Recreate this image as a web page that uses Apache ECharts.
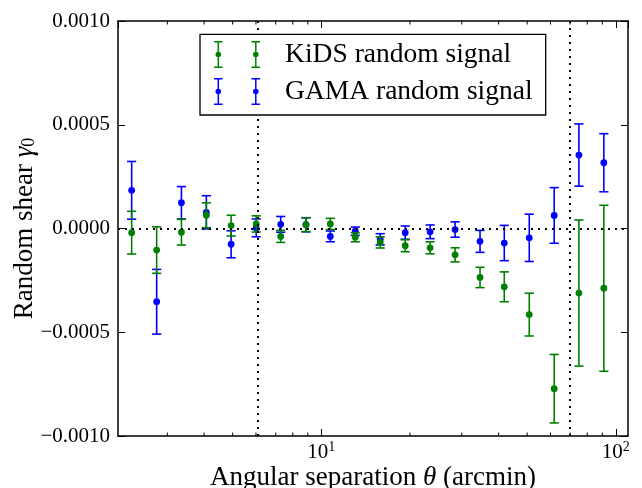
<!DOCTYPE html>
<html>
<head>
<meta charset="utf-8">
<script src="https://cdn.jsdelivr.net/npm/echarts@6/dist/echarts.min.js"></script>
<style>html,body{margin:0;padding:0;background:#fff;}#c{width:642px;height:488px;}</style>
</head>
<body>
<div id="c"></div>
<script>
// Angular separation theta (arcmin) of each bin
const xTheta = [2.27, 2.76, 3.35, 4.07, 4.94, 6.01, 7.28, 8.87, 10.73, 13.04, 15.85, 19.27, 23.41, 28.46, 34.59, 41.81, 50.83, 61.77, 74.93, 91.06];
// KiDS random signal
const kidsY = [-0.000020, -0.000104, -0.000018, 0.000064, 0.000014, 0.000022, -0.000038, 0.000018, 0.000022, -0.000042, -0.000067, -0.000083, -0.000093, -0.000127, -0.000236, -0.000281, -0.000415, -0.000772, -0.000311, -0.000288];
const kidsErr = [0.000103, 0.000112, 0.000062, 0.000060, 0.000050, 0.000039, 0.000029, 0.000033, 0.000027, 0.000022, 0.000027, 0.000029, 0.000029, 0.000034, 0.000049, 0.000072, 0.000103, 0.000165, 0.000352, 0.000400];
// GAMA random signal
const gamaY = [0.000184, -0.000353, 0.000124, 0.000078, -0.000076, 0.000003, 0.000020, 0.000018, -0.000038, -0.000013, -0.000052, -0.000020, -0.000016, -0.000005, -0.000062, -0.000070, -0.000045, 0.000063, 0.000354, 0.000317];
const gamaErr = [0.000139, 0.000156, 0.000078, 0.000080, 0.000065, 0.000043, 0.000038, 0.000034, 0.000026, 0.000020, 0.000027, 0.000032, 0.000033, 0.000037, 0.000053, 0.000085, 0.000114, 0.000134, 0.000150, 0.000140];
// reference lines
const vLines = [6.1, 70];
const hLine = 0;
// minor tick positions on log axis
const xMinorTicks = [3, 4, 5, 6, 7, 8, 9, 20, 30, 40, 50, 60, 70, 80, 90];
const seriesNames = ['KiDS random signal', 'GAMA random signal'];

const FONT = 'Liberation Serif';
const GREEN = '#008000', BLUE = '#0000ff';

function errRender(color) {
  return function (params, api) {
    const x = api.value(0), y = api.value(1), e = api.value(2);
    const c = api.coord([x, y]);
    const t = api.coord([x, y + e]);
    const b = api.coord([x, y - e]);
    const cw = 4.6;
    const st = { stroke: color, lineWidth: 1.6 };
    return {
      type: 'group',
      children: [
        { type: 'line', shape: { x1: c[0], y1: t[1], x2: c[0], y2: b[1] }, style: st },
        { type: 'line', shape: { x1: c[0] - cw, y1: t[1], x2: c[0] + cw, y2: t[1] }, style: st },
        { type: 'line', shape: { x1: c[0] - cw, y1: b[1], x2: c[0] + cw, y2: b[1] }, style: st },
        { type: 'circle', shape: { cx: c[0], cy: c[1], r: 3.4 }, style: { fill: color } }
      ]
    };
  };
}

function bar(cx) {
  const hw = 4.3, sw = 0.75, r = 2.8;
  return 'M' + (cx - hw) + ' 0H' + (cx + hw) + 'V1.5H' + (cx - hw) + 'Z' +
    'M' + (cx - sw) + ' 0H' + (cx + sw) + 'V27H' + (cx - sw) + 'Z' +
    'M' + (cx - hw) + ' 25.5H' + (cx + hw) + 'V27H' + (cx - hw) + 'Z' +
    'M' + (cx + r) + ' 13.5A' + r + ' ' + r + ' 0 1 1 ' + (cx - r) + ' 13.5A' + r + ' ' + r + ' 0 1 1 ' + (cx + r) + ' 13.5Z';
}
const legendIcon = 'path://' + bar(4.3) + bar(41.8);

const chart = echarts.init(document.getElementById('c'), null, { renderer: 'canvas' });

const xCommon = {
  type: 'log', logBase: 10, min: 2.04, max: 110,
  axisLine: { show: true, onZero: false, lineStyle: { color: '#000', width: 1.5 } },
  axisTick: { show: true, inside: true, length: 7, lineStyle: { color: '#000', width: 1 } },
  splitLine: { show: false }
};
const yCommon = {
  type: 'value', min: -0.001, max: 0.001, interval: 0.0005,
  axisLine: { show: true, onZero: false, lineStyle: { color: '#000', width: 1.5 } },
  axisTick: { show: true, inside: true, length: 7, lineStyle: { color: '#000', width: 1 } },
  splitLine: { show: false }
};

const option = {
  animation: false,
  backgroundColor: '#fff',
  grid: { left: 118, right: 14, top: 21, bottom: 52, containLabel: false, outerBoundsMode: 'none' },
  xAxis: [
    Object.assign({}, xCommon, {
      position: 'bottom',
      name: 'Angular separation {it|θ} (arcmin)',
      nameLocation: 'middle', nameGap: 28, nameMoveOverlap: false,
      nameTextStyle: { fontFamily: FONT, fontSize: 27, color: '#000', lineHeight: 27,
        rich: { it: { fontFamily: FONT, fontSize: 27, fontStyle: 'italic', color: '#000', lineHeight: 27 } } },
      axisLabel: {
        margin: 4, color: '#000', fontFamily: FONT, fontSize: 21, lineHeight: 24,
        showMinLabel: false, showMaxLabel: false,
        formatter: function (v) {
          const l = Math.log10(v);
          if (Math.abs(l - Math.round(l)) > 1e-6) return '';
          return '10{sup|' + Math.round(l) + '}';
        },
        rich: { sup: { fontFamily: FONT, fontSize: 14, verticalAlign: 'top', lineHeight: 14, color: '#000' } }
      }
    }),
    Object.assign({}, xCommon, { position: 'top', axisLabel: { show: false } })
  ],
  yAxis: [
    Object.assign({}, yCommon, {
      position: 'left',
      name: 'Random shear {it|γ}{sub|0}',
      nameLocation: 'middle', nameGap: 80, nameRotate: 90, nameMoveOverlap: false,
      nameTextStyle: { fontFamily: FONT, fontSize: 27, color: '#000', lineHeight: 27,
        rich: {
          it: { fontFamily: FONT, fontSize: 27, fontStyle: 'italic', color: '#000', lineHeight: 27 },
          sub: { fontFamily: FONT, fontSize: 18, color: '#000', lineHeight: 16, verticalAlign: 'bottom' }
        } },
      axisLabel: {
        margin: 8, color: '#000', fontFamily: FONT, fontSize: 21,
        formatter: function (v) { return (v < 0 ? '\u2212' : '') + Math.abs(v).toFixed(4); }
      }
    }),
    Object.assign({}, yCommon, { position: 'right', axisLabel: { show: false } })
  ],
  legend: {
    orient: 'vertical', left: 214, top: 40.5, padding: 0,
    itemWidth: 46.1, itemHeight: 27, itemGap: 9,
    selectedMode: false, z: 10,
    textStyle: { fontFamily: FONT, fontSize: 27.5, color: '#000', lineHeight: 27, padding: [0, 0, 0, 20] },
    data: [
      { name: seriesNames[0], icon: legendIcon },
      { name: seriesNames[1], icon: legendIcon }
    ]
  },
  graphic: [
    { type: 'rect', z: 8, shape: { x: 200, y: 34.3, width: 345.7, height: 80.7 },
      style: { fill: '#fff', stroke: '#000', lineWidth: 1.3 } }
  ],
  series: [
    {
      type: 'scatter', name: '_ref', data: [], silent: true,
      markLine: {
        silent: true, symbol: ['none', 'none'], label: { show: false },
        lineStyle: { color: '#000', width: 2, type: [2, 5] },
        emphasis: { disabled: true },
        data: [{ yAxis: hLine }].concat(vLines.map(v => ({ xAxis: v })))
      }
    },
    {
      type: 'custom', name: '_minor', silent: true,
      data: xMinorTicks.map(v => [v, 0]),
      encode: { x: 0, y: 1 },
      renderItem: function (params, api) {
        const p = api.coord([api.value(0), 0]);
        const cs = params.coordSys;
        const st = { stroke: '#000', lineWidth: 1 };
        return { type: 'group', children: [
          { type: 'line', shape: { x1: p[0], y1: cs.y + cs.height, x2: p[0], y2: cs.y + cs.height - 3.5 }, style: st },
          { type: 'line', shape: { x1: p[0], y1: cs.y, x2: p[0], y2: cs.y + 3.5 }, style: st }
        ] };
      }
    },
    {
      type: 'custom', name: seriesNames[1], itemStyle: { color: BLUE },
      data: xTheta.map((x, i) => [x, gamaY[i], gamaErr[i]]),
      encode: { x: 0, y: 1 },
      renderItem: errRender(BLUE), z: 3
    },
    {
      type: 'custom', name: seriesNames[0], itemStyle: { color: GREEN },
      data: xTheta.map((x, i) => [x, kidsY[i], kidsErr[i]]),
      encode: { x: 0, y: 1 },
      renderItem: errRender(GREEN), z: 4
    }
  ]
};
chart.setOption(option);
</script>
</body>
</html>
